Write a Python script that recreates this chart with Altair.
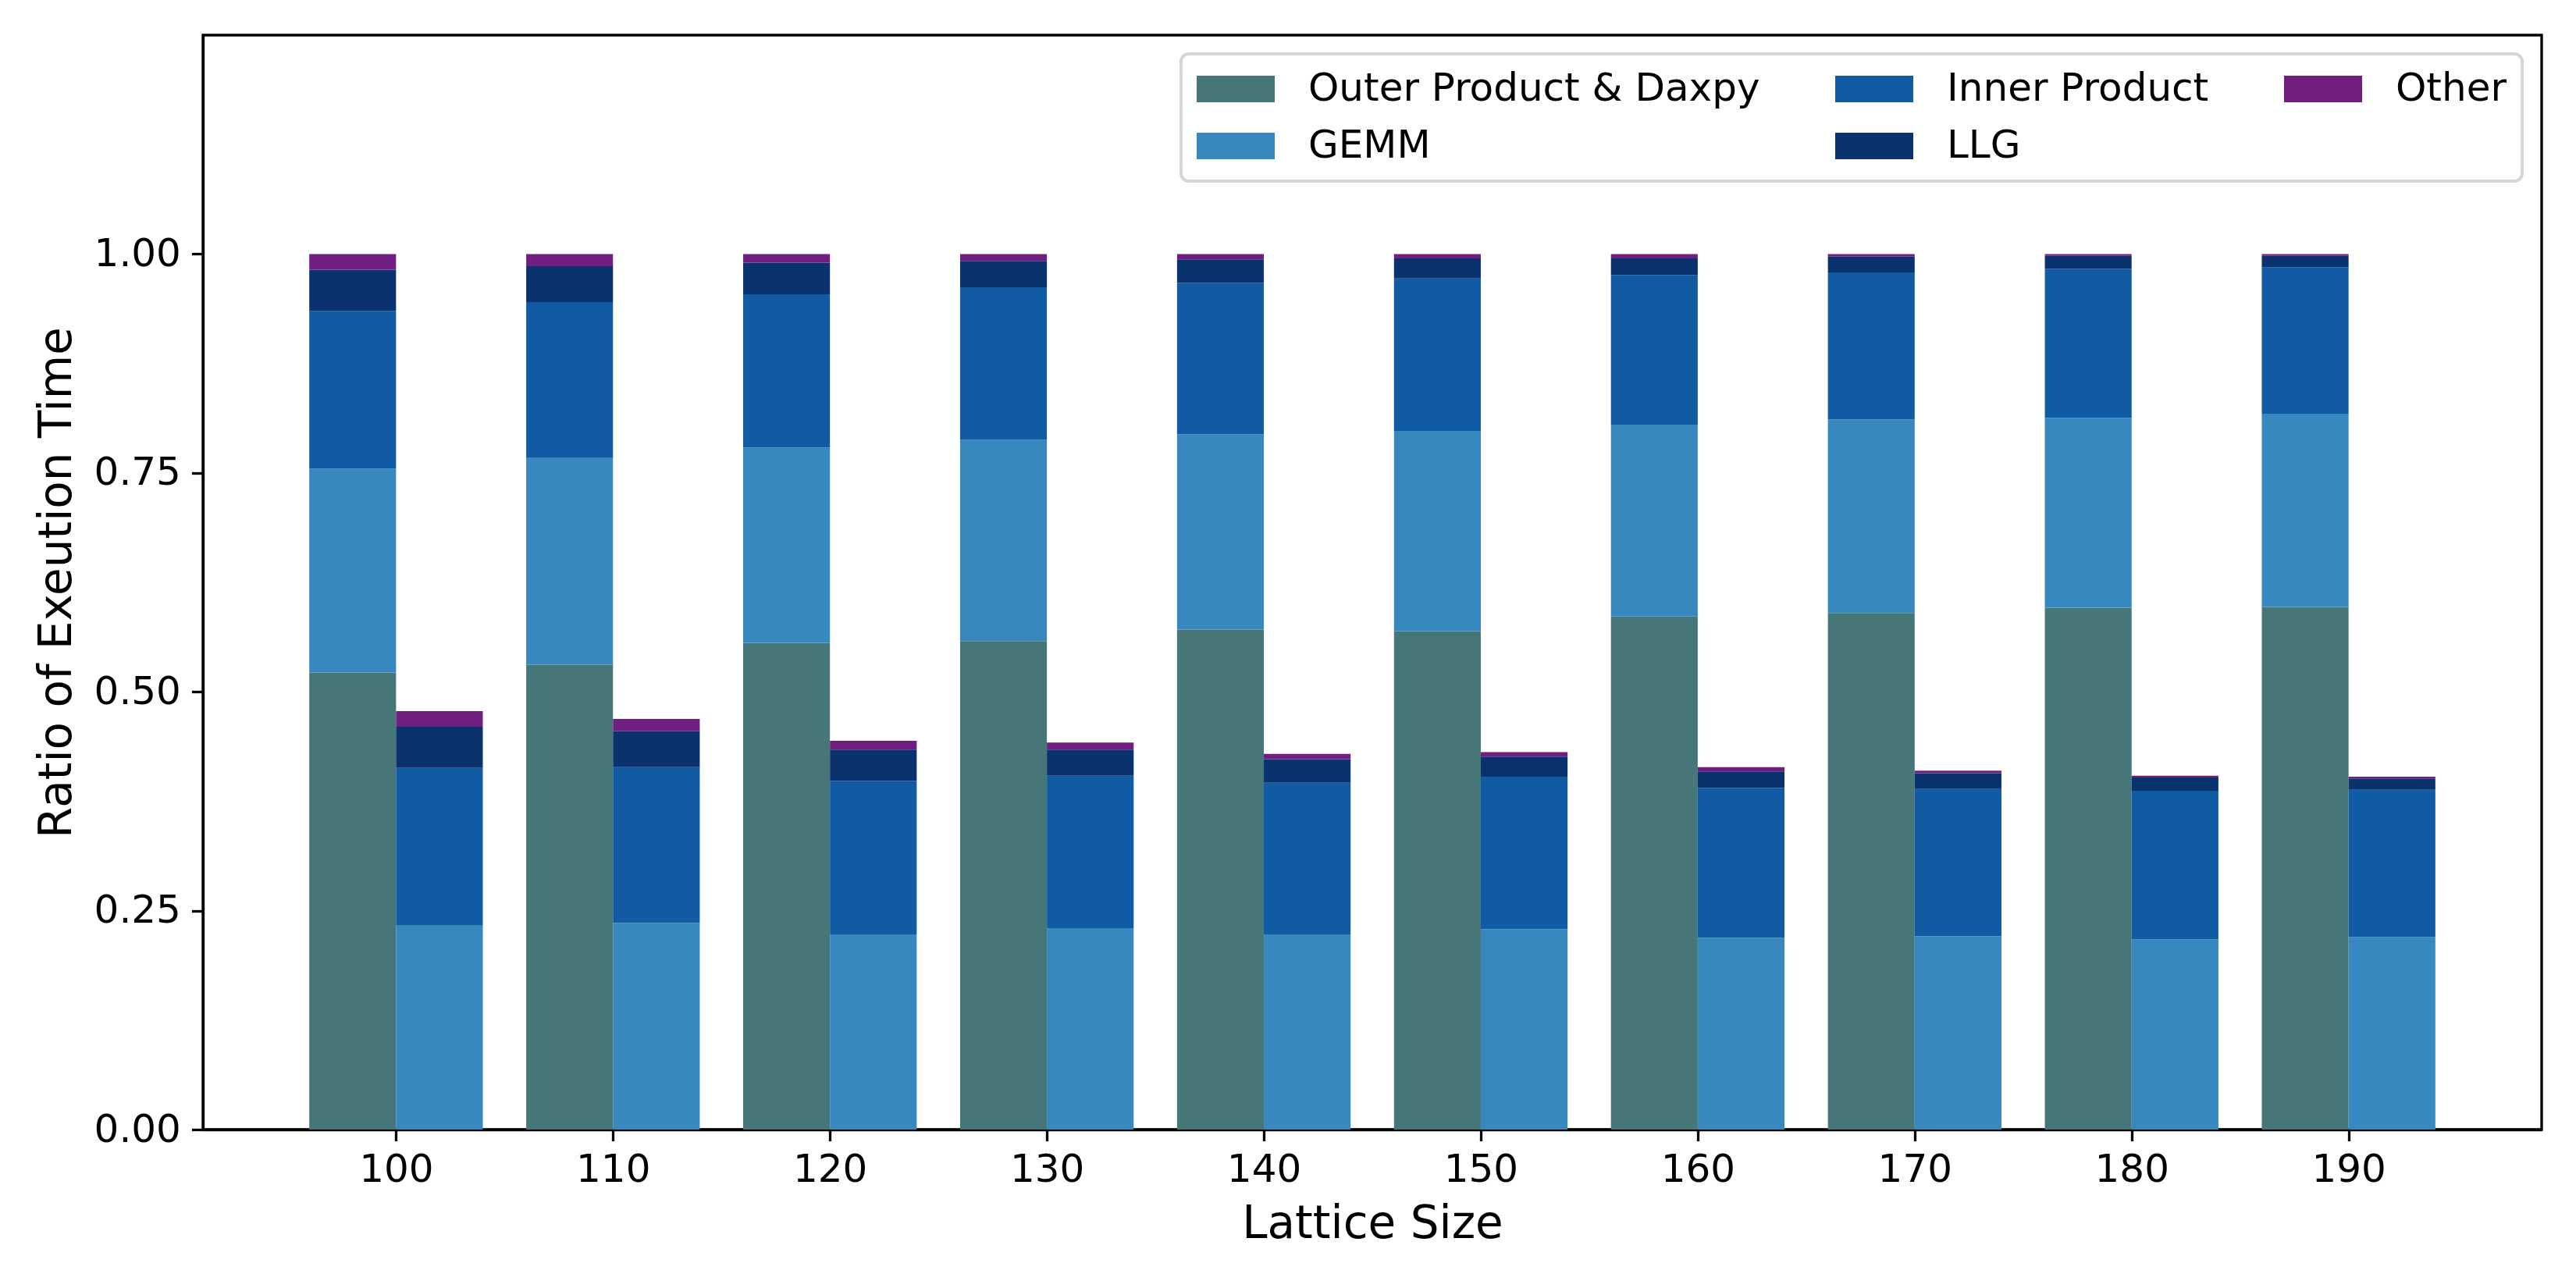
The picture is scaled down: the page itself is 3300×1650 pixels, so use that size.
import altair as alt
import pandas as pd

# ---- data ----
lattice_sizes = [100, 110, 120, 130, 140, 150, 160, 170, 180, 190]
outer_daxpy = [0.522, 0.531, 0.556, 0.558, 0.571, 0.569, 0.586, 0.590, 0.596, 0.597]
gemm = [0.233, 0.236, 0.223, 0.230, 0.223, 0.229, 0.219, 0.221, 0.217, 0.220]
inner_product = [0.180, 0.178, 0.175, 0.174, 0.173, 0.174, 0.171, 0.168, 0.170, 0.168]
llg = [0.047, 0.041, 0.036, 0.030, 0.027, 0.023, 0.019, 0.018, 0.015, 0.013]
other = [0.018, 0.014, 0.010, 0.008, 0.006, 0.005, 0.005, 0.003, 0.002, 0.002]

components = ["Outer Product & Daxpy", "GEMM", "Inner Product", "LLG", "Other"]
series = [outer_daxpy, gemm, inner_product, llg, other]
comp_colors = ["#467678", "#3888c0", "#105ba4", "#0a326e", "#701e80"]

rows = []
for i, s in enumerate(lattice_sizes):
    for k, comp in enumerate(components):
        # left bar: full breakdown
        rows.append({"size": s, "bar": "full", "comp": comp, "order": k, "value": series[k][i]})
        # right bar: breakdown without Outer Product & Daxpy
        if k > 0:
            rows.append({"size": s, "bar": "rest", "comp": comp, "order": k, "value": series[k][i]})
df = pd.DataFrame(rows)

FONT = "DejaVu Sans"

chart = (
    alt.Chart(df)
    .transform_calculate(
        xs="datum.bar == 'full' ? datum.size - 4 : datum.size",
        xe="datum.bar == 'full' ? datum.size : datum.size + 4",
    )
    .transform_stack(
        stack="value",
        groupby=["size", "bar"],
        as_=["y0", "y1"],
        sort=[alt.SortField("order", order="ascending")],
    )
    .mark_bar(strokeWidth=0, opacity=1)
    .encode(
        x=alt.X(
            "xs:Q",
            scale=alt.Scale(domain=[91.1, 198.9], nice=False, zero=False),
            axis=alt.Axis(
                values=lattice_sizes,
                format="d",
                title="Lattice Size",
                grid=False,
                labelFontSize=50,
                labelFont=FONT,
                labelColor="black",
                labelPadding=12,
                labelFlush=False,
                labelOverlap=False,
                tickSize=14.6,
                tickWidth=3.3,
                tickColor="black",
                domainColor="black",
                domainWidth=3.3,
                titleFontSize=58,
                titleFont=FONT,
                titleFontWeight="normal",
                titleColor="black",
                titleBaseline="alphabetic",
                titleY=138,
            ),
        ),
        x2="xe:Q",
        y=alt.Y(
            "y0:Q",
            scale=alt.Scale(domain=[0, 1.25], nice=False, zero=True),
            axis=alt.Axis(
                values=[0, 0.25, 0.5, 0.75, 1.0],
                format=".2f",
                title="Ratio of Exeution Time",
                grid=False,
                labelFontSize=50,
                labelFont=FONT,
                labelColor="black",
                labelPadding=14,
                labelFlush=False,
                labelOverlap=False,
                tickSize=14.6,
                tickWidth=3.3,
                tickColor="black",
                domainColor="black",
                domainWidth=3.3,
                titleFontSize=58,
                titleFont=FONT,
                titleFontWeight="normal",
                titleColor="black",
                titleBaseline="alphabetic",
                titleAngle=270,
                titleAlign="center",
                titleX=-170,
                titleY=701,
            ),
        ),
        y2="y1:Q",
        color=alt.Color(
            "comp:N",
            scale=alt.Scale(domain=components, range=comp_colors),
            legend=alt.Legend(
                title=None,
                orient="none",
                legendX=1253,
                legendY=24,
                columns=3,
                gridAlign="each",
                symbolType="M-1,-0.68L3,-0.68L3,0.68L-1,0.68Z",
                symbolSize=2500,
                symbolStrokeWidth=0,
                symbolOpacity=1,
                labelFontSize=50,
                labelFont=FONT,
                labelColor="black",
                labelLimit=3000,
                labelOffset=93,
                columnPadding=96,
                rowPadding=23,
                padding=20,
                strokeColor="#d6d6d6",
                cornerRadius=10,
                fillColor="white",
            ),
        ),
    )
    .properties(
        width=2996,
        height=1402,
        background="white",
        autosize=alt.AutoSizeParams(type="none"),
        padding={"left": 252, "top": 37, "right": 30, "bottom": 190},
    )
    .configure_view(stroke="black", strokeWidth=3.3)
    .configure_legend(strokeWidth=4)
)

chart.save("out.html", embed_options={"renderer": "svg", "actions": False})
